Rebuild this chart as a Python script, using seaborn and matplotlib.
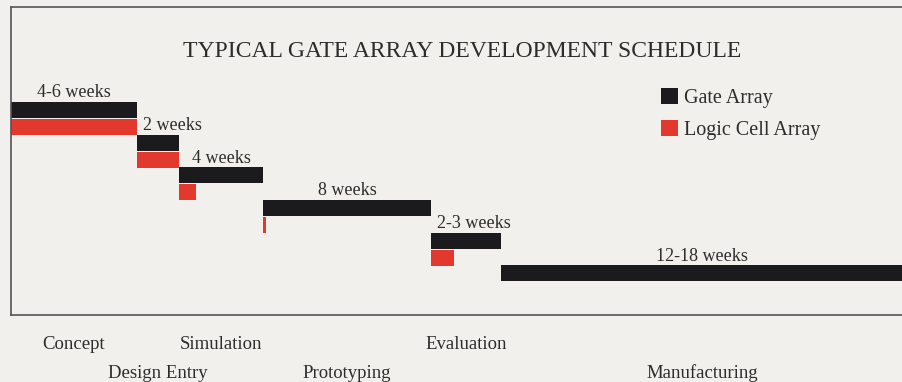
import numpy as np
import matplotlib
matplotlib.use("Agg")
import matplotlib.pyplot as plt
import matplotlib.transforms as mtransforms
from matplotlib.patches import Patch
import seaborn as sns

# --- schedule data (weeks) ---
phases = ["Concept", "Design Entry", "Simulation", "Prototyping", "Evaluation", "Manufacturing"]
gate_weeks = [6.0, 2.0, 4.0, 8.0, 3.35, 19.5]
lca_weeks = [6.0, 2.0, 0.8, 0.15, 1.1, 0.0]
duration_labels = ["4-6 weeks", "2 weeks", "4 weeks", "8 weeks", "2-3 weeks", "12-18 weeks"]
series = ["Gate Array", "Logic Cell Array"]
title = "TYPICAL GATE ARRAY DEVELOPMENT SCHEDULE"

# --- styling ---
BG = "#f1f0ec"
INK = "#2e2c2b"
FRAME = "#555555"
GATE = "#1b1a1c"
LCA = "#e2382d"
label_align = ["center", "left", "center", "center", "left", "center"]

sns.set_theme(style="white", rc={"axes.facecolor": BG, "figure.facecolor": BG})
plt.rcParams["font.family"] = ["Liberation Serif", "DejaVu Serif"]

W, H = 903, 382
fig = plt.figure(figsize=(W / 100, H / 100), dpi=100)
fig.patch.set_facecolor(BG)
ax = fig.add_axes([11 / W, 1 - 315 / H, 1 - 11 / W, (315 - 7) / H])
ax.set_facecolor(BG)

px_per_week = 21.0
x_right = (W - 11) / px_per_week
starts = np.concatenate([[0.0], np.cumsum(gate_weeks[:-1])])
lanes = np.arange(len(phases))
bar_h = 0.49
lca_shift = 0.52

ax.barh(lanes, gate_weeks, left=starts, height=bar_h, color=GATE, linewidth=0)
ax.barh(lanes + lca_shift, lca_weeks, left=starts, height=bar_h, color=LCA, linewidth=0)

ax.set_xlim(0, x_right)
ax.set_ylim(6.276, -3.160)
ax.set_xticks([])
ax.set_yticks([])
for side in ["left", "top", "bottom"]:
    ax.spines[side].set_visible(True)
    ax.spines[side].set_color(FRAME)
    ax.spines[side].set_linewidth(1.2)
ax.spines["right"].set_visible(False)

# duration labels above the gate array bars
for i, (s, d, lab, ha) in enumerate(zip(starts, gate_weeks, duration_labels, label_align)):
    end = min(s + d, x_right)
    x = (s + end) / 2 if ha == "center" else s + 0.28
    ax.annotate(lab, xy=(x, i - bar_h / 2), xytext=(0, 3.4), textcoords="offset points",
                ha=ha, va="baseline", fontsize=13, color=INK, annotation_clip=False)

# phase names below the frame, alternating rows
trans = mtransforms.blended_transform_factory(ax.transData, fig.transFigure)
for i, (s, d, name) in enumerate(zip(starts, gate_weeks, phases)):
    end = min(s + d, x_right)
    y = 1 - (349 if i % 2 == 0 else 378) / H
    ax.text((s + end) / 2, y, name, transform=trans, ha="center", va="baseline",
            fontsize=13.5, color=INK, clip_on=False)

fig.text(462 / W, 1 - 57 / H, title, ha="center", va="baseline", fontsize=17, color=INK)

handles = [Patch(facecolor=GATE, edgecolor="none"), Patch(facecolor=LCA, edgecolor="none")]
leg = ax.legend(handles, series, loc="upper left", bbox_to_anchor=(661 / W, 1 - 88 / H),
                bbox_transform=fig.transFigure, frameon=False, fontsize=14.5,
                handlelength=0.85, handleheight=0.82, handletextpad=0.3,
                labelspacing=0.62, borderpad=0, borderaxespad=0)
for t in leg.get_texts():
    t.set_color(INK)

fig.savefig("out.png", dpi=100, facecolor=BG)
